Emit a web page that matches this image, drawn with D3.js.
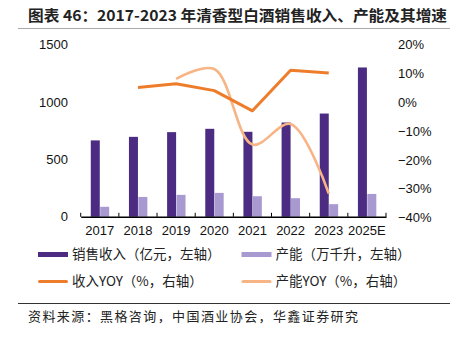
<!DOCTYPE html>
<html>
<head>
<meta charset="utf-8">
<script src="https://cdn.jsdelivr.net/npm/d3@7"></script>
<style>
  body { margin: 0; background: #fff; }
  text { font-family: "Liberation Sans", Arial, sans-serif; }
  .cjk { font-family: "Noto Sans CJK SC", sans-serif; }
</style>
</head>
<body>
<div id="chart"></div>
<script>
const years = ["2017", "2018", "2019", "2020", "2021", "2022", "2023", "2025E"]
const revenue = [665, 696, 737, 766, 740, 821, 899, 1300]
const capacity = [87, 173, 191, 208, 179, 162, 110, 199]
const revenueYears = ["2018", "2019", "2020", "2021", "2022", "2023"]
const revenueYoy = [5.1, 6.4, 4.0, -3.0, 11.1, 10.1]
const capacityYears = ["2019", "2020", "2021", "2022", "2023"]
const capacityYoy = [8.1, 11.5, -14.7, -7.6, -31.7]
const leftTicks = [0, 500, 1000, 1500]
const rightTicks = [-40, -30, -20, -10, 0, 10, 20]

const width = 450, height = 339
const margin = { top: 44.5, right: 64, bottom: 122, left: 80.7 }

const color = {
    revenue: "#4B2C82",
    capacity: "#A899D0",
    revenueYoy: "#EE7D2B",
    capacityYoy: "#F7B585"
}

const svg = d3.select("#chart")
    .append("svg")
    .attr("width", width)
    .attr("height", height)

// Title
svg.append("text")
    .attr("class", "cjk")
    .attr("x", 28)
    .attr("y", 21)
    .attr("font-size", 15)
    .attr("font-weight", "bold")
    .attr("fill", "#222")
    .attr("textLength", 419)
    .attr("lengthAdjust", "spacingAndGlyphs")
    .text("图表 46：2017-2023 年清香型白酒销售收入、产能及其增速")

svg.append("line")
    .attr("x1", 18).attr("x2", 450)
    .attr("y1", 28.5).attr("y2", 28.5)
    .attr("stroke", "#aaa")

x = d3.scaleBand()
    .domain(years)
    .range([margin.left, 386])

y = d3.scaleLinear()
    .domain([0, 1500])
    .range([216.8, margin.top])

y2 = d3.scaleLinear()
    .domain([-40, 20])
    .range([217.5, margin.top])

const barW = 9
const cx = d => x(d) + x.bandwidth() / 2

// Draw revenue bars
svg.append("g")
    .attr("fill", color.revenue)
    .selectAll("rect")
    .data(revenue)
    .join("rect")
    .attr("x", (d, i) => cx(years[i]) - barW)
    .attr("y", d => y(d))
    .attr("width", barW)
    .attr("height", d => y(0) - y(d))

// Draw capacity bars
svg.append("g")
    .attr("fill", color.capacity)
    .selectAll("rect")
    .data(capacity)
    .join("rect")
    .attr("x", (d, i) => cx(years[i]) + 0.4)
    .attr("y", d => y(d))
    .attr("width", barW)
    .attr("height", d => y(0) - y(d))

// x axis
svg.append("g")
    .attr("transform", `translate(0,${y(0)})`)
    .call(d3.axisBottom(x).tickSize(0).tickPadding(9))
    .call(g => g.select(".domain").attr("stroke", "#000").attr("stroke-width", 1.5))
    .call(g => g.selectAll("text").attr("font-size", 13).attr("fill", "#111")
        .attr("font-family", "Liberation Sans, Arial, sans-serif"))
    .call(g => g.selectAll(".sep")
        .data(d3.range(years.length + 1))
        .join("line")
        .attr("class", "sep")
        .attr("x1", i => margin.left + i * x.step())
        .attr("x2", i => margin.left + i * x.step())
        .attr("y1", 0).attr("y2", -4)
        .attr("stroke", "#000"))

// left axis
svg.append("g")
    .attr("transform", `translate(68,0)`)
    .call(d3.axisLeft(y).tickValues(leftTicks).tickSize(0).tickPadding(0)
        .tickFormat(d3.format("d")))
    .call(g => g.select(".domain").remove())
    .call(g => g.selectAll("text").attr("font-size", 13).attr("fill", "#111")
        .attr("font-family", "Liberation Sans, Arial, sans-serif"))

// right axis
svg.append("g")
    .attr("transform", `translate(398,0)`)
    .call(d3.axisRight(y2).tickValues(rightTicks).tickSize(0).tickPadding(0)
        .tickFormat(d => (d < 0 ? "\u2212" + Math.abs(d) : d) + "%"))
    .call(g => g.select(".domain").remove())
    .call(g => g.selectAll("text").attr("font-size", 13).attr("fill", "#111")
        .attr("font-family", "Liberation Sans, Arial, sans-serif"))

// capacity yoy (smooth)
svg.append("path")
    .datum(capacityYoy)
    .attr("fill", "none")
    .attr("stroke", color.capacityYoy)
    .attr("stroke-width", 2.6)
    .attr("d", d3.line()
        .x((d, i) => cx(capacityYears[i]))
        .y(d => y2(d))
        .curve(d3.curveCatmullRom.alpha(0.5)))

// revenue yoy
svg.append("path")
    .datum(revenueYoy)
    .attr("fill", "none")
    .attr("stroke", color.revenueYoy)
    .attr("stroke-width", 3)
    .attr("stroke-linejoin", "round")
    .attr("d", d3.line()
        .x((d, i) => cx(revenueYears[i]))
        .y(d => y2(d)))

// Legend
const legendItems = [
    { label: "销售收入（亿元，左轴）", color: color.revenue, h: 5, x: 38, y: 254.5 },
    { label: "产能（万千升，左轴）", color: color.capacity, h: 5, x: 241.5, y: 254.5 },
    { label: "收入YOY（%，右轴）", color: color.revenueYoy, h: 3, x: 38, y: 281.5 },
    { label: "产能YOY（%，右轴）", color: color.capacityYoy, h: 3, x: 241.5, y: 281.5 }
]

const lg = svg.append("g")
    .selectAll("g")
    .data(legendItems)
    .join("g")
    .attr("transform", d => `translate(${d.x},${d.y})`)

lg.append("rect")
    .attr("x", 0)
    .attr("y", d => -d.h / 2)
    .attr("width", 30)
    .attr("height", d => d.h)
    .attr("rx", d => d.h < 4 ? 1.5 : 0)
    .attr("fill", d => d.color)

lg.append("text")
    .attr("class", "cjk")
    .attr("x", 34)
    .attr("dy", "0.36em")
    .attr("font-size", 13.5)
    .attr("fill", "#222")
    .text(d => d.label)

// footer
svg.append("line")
    .attr("x1", 18).attr("x2", 450)
    .attr("y1", 303.5).attr("y2", 303.5)
    .attr("stroke", "#333")

svg.append("text")
    .attr("class", "cjk")
    .attr("x", 28)
    .attr("y", 320.5)
    .attr("font-size", 13)
    .attr("fill", "#222")
    .attr("textLength", 330)
    .attr("lengthAdjust", "spacing")
    .text("资料来源：黑格咨询，中国酒业协会，华鑫证券研究")
</script>
</body>
</html>
